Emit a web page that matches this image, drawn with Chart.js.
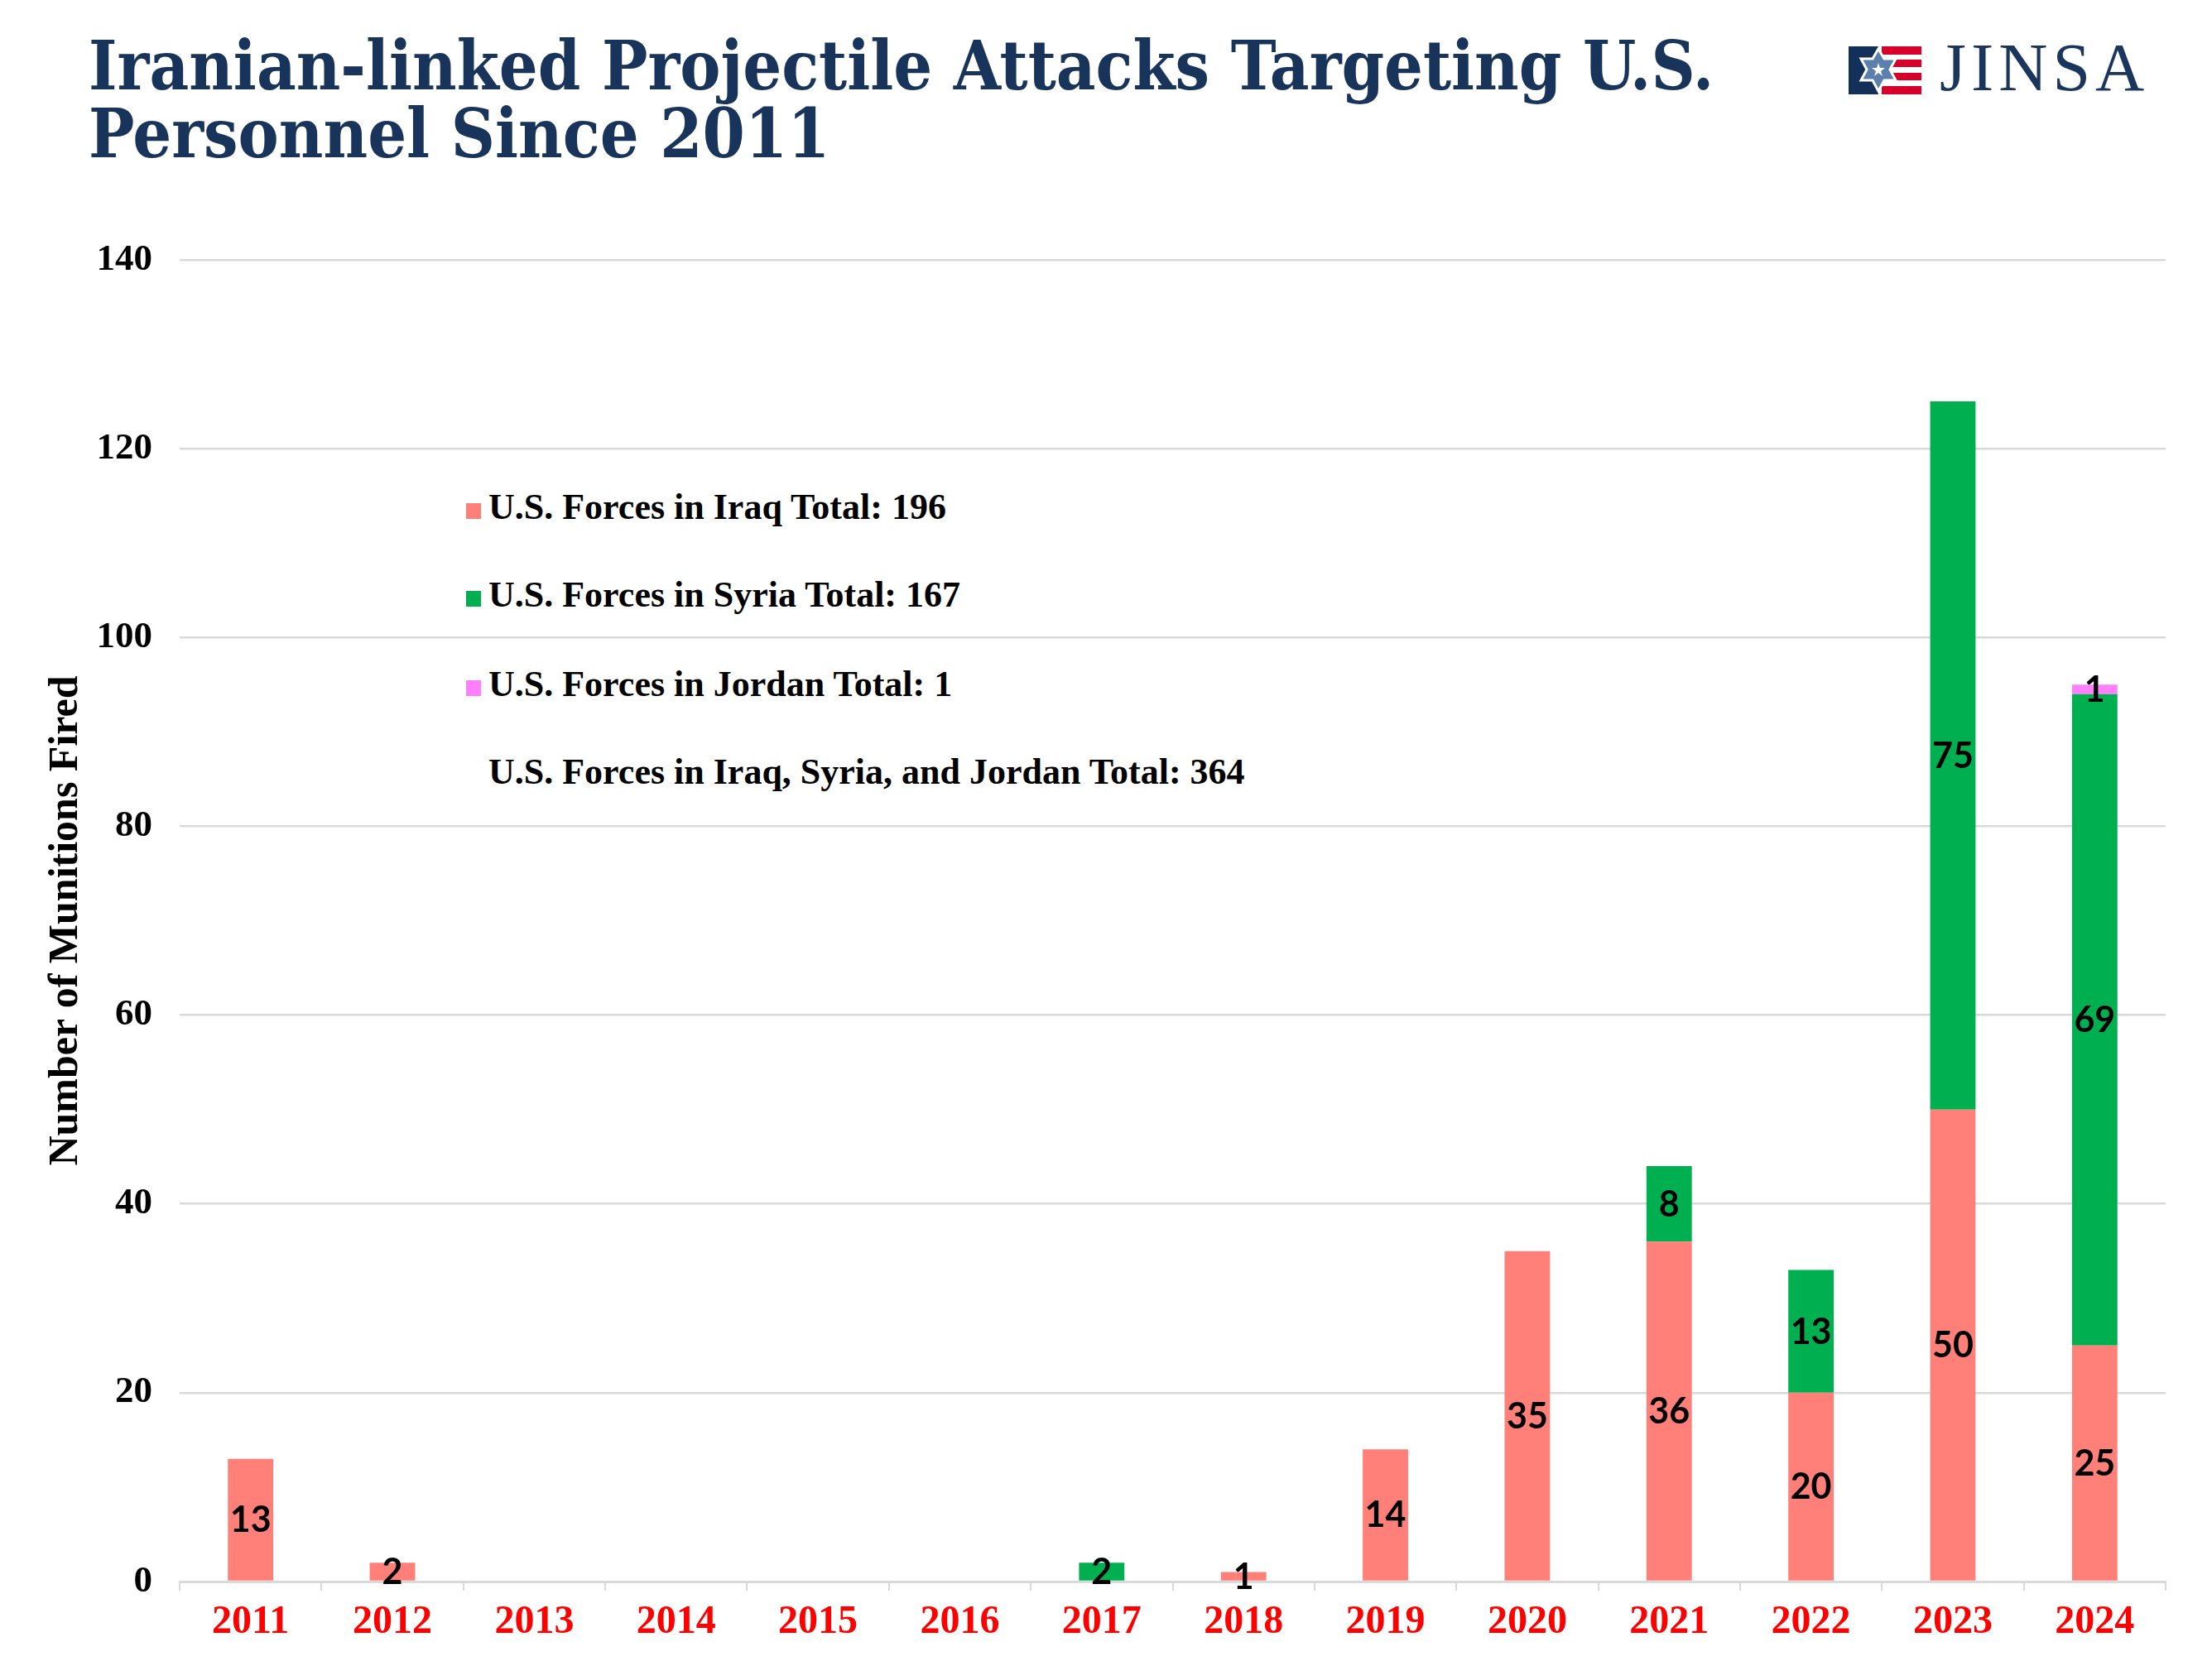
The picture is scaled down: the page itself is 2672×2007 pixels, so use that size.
<!DOCTYPE html>
<html>
<head>
<meta charset="utf-8">
<script src="https://cdn.jsdelivr.net/npm/chart.js@4.4.1/dist/chart.umd.min.js"></script>
<style>
  html, body { margin: 0; padding: 0; background: #ffffff; }
  body { width: 2672px; height: 2007px; position: relative; overflow: hidden; }
  #chart { position: absolute; left: 0; top: 0; }
  .title { position: absolute; left: 107px; top: 38px; font-family: "DejaVu Serif Condensed", "DejaVu Serif", serif; font-stretch: condensed; font-weight: bold; font-size: 82px; line-height: 82px; color: #19345a; white-space: nowrap; }
  .legend-item { position: absolute; left: 563px; font-family: "Liberation Serif", serif; font-weight: bold; font-size: 44px; line-height: 44px; color: #000; white-space: nowrap; }
  .legend-item .sw { display: inline-block; width: 18px; height: 19px; margin-right: 9px; vertical-align: baseline; }
  .logo { position: absolute; left: 2233px; top: 56px; }
  .logo-text { position: absolute; left: 2343px; top: 41px; font-family: "Liberation Serif", serif; font-size: 82px; line-height: 82px; letter-spacing: 6px; color: #1b365d; }
</style>
</head>
<body>
<div class="title" id="title"></div>
<svg class="logo" width="88" height="58" viewBox="0 0 88 58">
  <rect x="0" y="0" width="36" height="58" fill="#13305a"/>
  <rect x="40" y="0" width="48" height="10" fill="#d7002a"/>
  <rect x="40" y="16" width="48" height="9" fill="#d7002a"/>
  <rect x="40" y="32" width="48" height="9" fill="#d7002a"/>
  <rect x="40" y="48" width="48" height="10" fill="#d7002a"/>
  <polygon points="36,3 43,15 57,15 50,28 57,41 43,41 36,54 29,41 15,41 22,28 15,15 29,15" fill="#5b80ad" stroke="#ffffff" stroke-width="3"/>
  <polygon points="36,20 38,26 44,26 39,30 41,36 36,32 31,36 33,30 28,26 34,26" fill="#ffffff"/>
</svg>
<div class="logo-text">JINSA</div>
<div id="legend"></div>
<canvas id="chart" width="2672" height="2007"></canvas>
<script>
const titleLines = ["Iranian-linked Projectile Attacks Targeting U.S.", "Personnel Since 2011"];
const years = ["2011","2012","2013","2014","2015","2016","2017","2018","2019","2020","2021","2022","2023","2024"];
const iraq   = [13, 2, 0, 0, 0, 0, 0, 1, 14, 35, 36, 20, 50, 25];
const syria  = [0, 0, 0, 0, 0, 0, 2, 0, 0, 0, 8, 13, 75, 69];
const jordan = [0, 0, 0, 0, 0, 0, 0, 0, 0, 0, 0, 0, 0, 1];
const seriesNames = ["U.S. Forces in Iraq", "U.S. Forces in Syria", "U.S. Forces in Jordan"];
const seriesColors = ["#ff7f79", "#00b050", "#ff80ff"];
const yTicks = [0, 20, 40, 60, 80, 100, 120, 140];
const yTitle = "Number of Munitions Fired";

document.getElementById('title').innerHTML = titleLines.join('<br>');

const sum = a => a.reduce((s, v) => s + v, 0);
const totals = [sum(iraq), sum(syria), sum(jordan)];
const legendBaselines = [628, 734, 842, 948];
const legendTexts = [
  seriesNames[0] + " Total: " + totals[0],
  seriesNames[1] + " Total: " + totals[1],
  seriesNames[2] + " Total: " + totals[2],
  "U.S. Forces in Iraq, Syria, and Jordan Total: " + (totals[0] + totals[1] + totals[2])
];
const legendEl = document.getElementById('legend');
legendTexts.forEach((t, i) => {
  const d = document.createElement('div');
  d.className = 'legend-item';
  d.style.top = (legendBaselines[i] - 37) + 'px';
  const sw = document.createElement('span');
  sw.className = 'sw';
  sw.style.background = i < 3 ? seriesColors[i] : 'transparent';
  d.appendChild(sw);
  d.appendChild(document.createTextNode(t));
  legendEl.appendChild(d);
});

const nz = a => a.map(v => v === 0 ? null : v);

const valueLabels = {
  id: 'valueLabels',
  afterDatasetsDraw(chart) {
    const ctx = chart.ctx;
    ctx.save();
    ctx.font = 'bold 43px Lato, "Open Sans", sans-serif';
    ctx.fillStyle = '#000';
    ctx.textAlign = 'center';
    ctx.textBaseline = 'middle';
    chart.data.datasets.forEach((ds, di) => {
      const meta = chart.getDatasetMeta(di);
      meta.data.forEach((el, i) => {
        const v = ds.data[i];
        if (v === null || v === 0) return;
        const p = el.getProps(['x', 'y', 'base'], true);
        ctx.fillText(String(v), p.x, (p.y + p.base) / 2 + 1);
      });
    });
    ctx.restore();
  }
};

new Chart(document.getElementById('chart'), {
  type: 'bar',
  data: {
    labels: years,
    datasets: [
      { label: seriesNames[0], data: nz(iraq), backgroundColor: seriesColors[0] },
      { label: seriesNames[1], data: nz(syria), backgroundColor: seriesColors[1] },
      { label: seriesNames[2], data: nz(jordan), backgroundColor: seriesColors[2] }
    ]
  },
  options: {
    responsive: false,
    animation: false,
    devicePixelRatio: 1,
    layout: { padding: { top: 314, right: 56, bottom: 0, left: 0 } },
    datasets: { bar: { categoryPercentage: 1.0, barPercentage: 0.32, borderWidth: 0 } },
    plugins: { legend: { display: false }, tooltip: { enabled: false } },
    scales: {
      x: {
        stacked: true,
        afterFit(scale) { scale.height = 96; },
        grid: { display: true, drawOnChartArea: false, offset: true, tickLength: 11, color: '#d9d9d9', lineWidth: 2 },
        border: { display: true, color: '#d9d9d9', width: 3 },
        ticks: { color: '#ff0000', padding: 10, font: { family: '"Liberation Serif", serif', weight: 'bold', size: 48 }, maxRotation: 0 }
      },
      y: {
        stacked: true,
        min: 0, max: 140,
        afterFit(scale) { scale.width = 217; },
        afterBuildTicks(scale) { scale.ticks = yTicks.map(v => ({ value: v })); },
        grid: { color: '#d9d9d9', lineWidth: 2.5, drawTicks: false },
        border: { display: false },
        ticks: { color: '#000', padding: 33, font: { family: '"Liberation Serif", serif', weight: 'bold', size: 45 } },
        title: { display: true, text: yTitle, color: '#000', padding: { top: 50, bottom: 0 }, font: { family: '"Liberation Serif", serif', weight: 'bold', size: 50 } }
      }
    }
  },
  plugins: [valueLabels]
});
</script>
</body>
</html>
